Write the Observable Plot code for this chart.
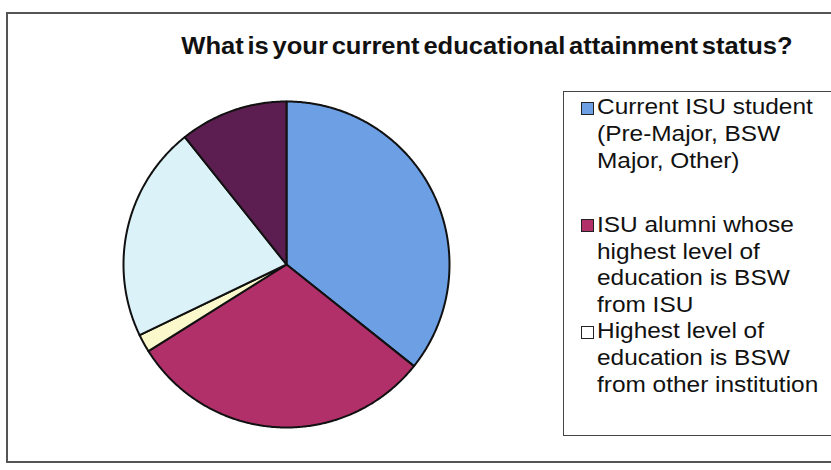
<!DOCTYPE html>
<html>
<head>
<meta charset="utf-8">
<script src="https://cdn.jsdelivr.net/npm/d3@7"></script>
<script src="https://cdn.jsdelivr.net/npm/@observablehq/plot@0.6"></script>
<style>
  html, body { margin: 0; padding: 0; background: #fff; }
  #page { position: relative; width: 831px; height: 470px; overflow: hidden; background: #fff; font-family: "Liberation Sans", Arial, sans-serif; }
  #frame { position: absolute; left: 6px; top: 12px; width: 860px; height: 451px; border: 2px solid #555; box-sizing: border-box; }
  #title { position: absolute; left: 487px; top: 35px; font-size: 23px; line-height: 23px; font-weight: bold; white-space: nowrap; color: #111; word-spacing: -3px; transform: translateX(-50%) scaleX(1.11); transform-origin: center; }
  #chart { position: absolute; left: 101px; top: 79px; }
  #legend { position: absolute; left: 563px; top: 91px; width: 300px; height: 345px; border: 1.5px solid #444; box-sizing: border-box; }
  .lg-line { position: absolute; font-size: 22px; line-height: 22px; white-space: nowrap; color: #111; transform: scaleX(1.11); transform-origin: left center; }
  .lg-box { position: absolute; width: 11px; height: 11px; border: 1.5px solid #222; }
</style>
</head>
<body>
<div id="page">
  <div id="frame"></div>
  <div id="title"></div>
  <div id="chart"></div>
  <div id="legend"></div>
</div>
<script>
// ---- data ----
const titleText = "What is your current educational attainment status?";
const categories = [
  "Current ISU student (Pre-Major, BSW Major, Other)",
  "ISU alumni whose highest level of education is BSW from ISU",
  "Highest level of education is BSW from other institution",
  "Category 4",
  "Category 5"
];
const counts = [20, 17, 1, 12, 6];
const legendLines = [
  ["Current ISU student", "(Pre-Major, BSW", "Major, Other)"],
  ["ISU alumni whose", "highest level of", "education is BSW", "from ISU"],
  ["Highest level of", "education is BSW", "from other institution"]
];
const sliceColors = ["#6d9fe5", "#b2306a", "#fbf8cc", "#dcf2f9", "#5c1e50"];

// ---- pie geometry from data ----
const arcs = d3.pie().sort(null).startAngle(0).endAngle(2 * Math.PI)(counts);
const pts = [];
arcs.forEach((a, i) => {
  const cat = categories[i];
  pts.push({cat, x: 0, y: 0});
  const n = Math.max(2, Math.ceil((a.endAngle - a.startAngle) / (Math.PI / 360)));
  for (let k = 0; k <= n; k++) {
    const t = a.startAngle + (a.endAngle - a.startAngle) * k / n;
    pts.push({cat, x: Math.sin(t), y: Math.cos(t)});
  }
});

const chart = Plot.plot({
  width: 370,
  height: 370,
  margin: 22,
  x: {domain: [-1, 1], axis: null},
  y: {domain: [-1, 1], axis: null},
  color: {domain: categories, range: sliceColors},
  style: {background: "transparent"},
  marks: [
    Plot.line(pts, {x: "x", y: "y", z: "cat", fill: "cat", stroke: "#111", strokeWidth: 2, strokeLinejoin: "round", curve: "linear-closed"})
  ]
});
document.getElementById("chart").appendChild(chart);

document.getElementById("title").textContent = titleText;

// ---- legend ----
const legend = document.getElementById("legend");
const lineH = 26.6;
const firstBaselines = [114, 231.5, 338];
legendLines.forEach((lines, i) => {
  const b0 = firstBaselines[i] - 91;
  const box = document.createElement("div");
  box.className = "lg-box";
  box.style.left = (580 - 563) + "px";
  box.style.top = (b0 - 13.5) + "px";
  box.style.background = sliceColors[i] === "#fbf8cc" ? "#fff" : sliceColors[i];
  legend.appendChild(box);
  lines.forEach((t, j) => {
    const d = document.createElement("div");
    d.className = "lg-line";
    d.textContent = t;
    d.style.left = (596 - 563) + "px";
    d.style.top = (b0 + j * lineH - 18.6) + "px";
    legend.appendChild(d);
  });
});
</script>
</body>
</html>
